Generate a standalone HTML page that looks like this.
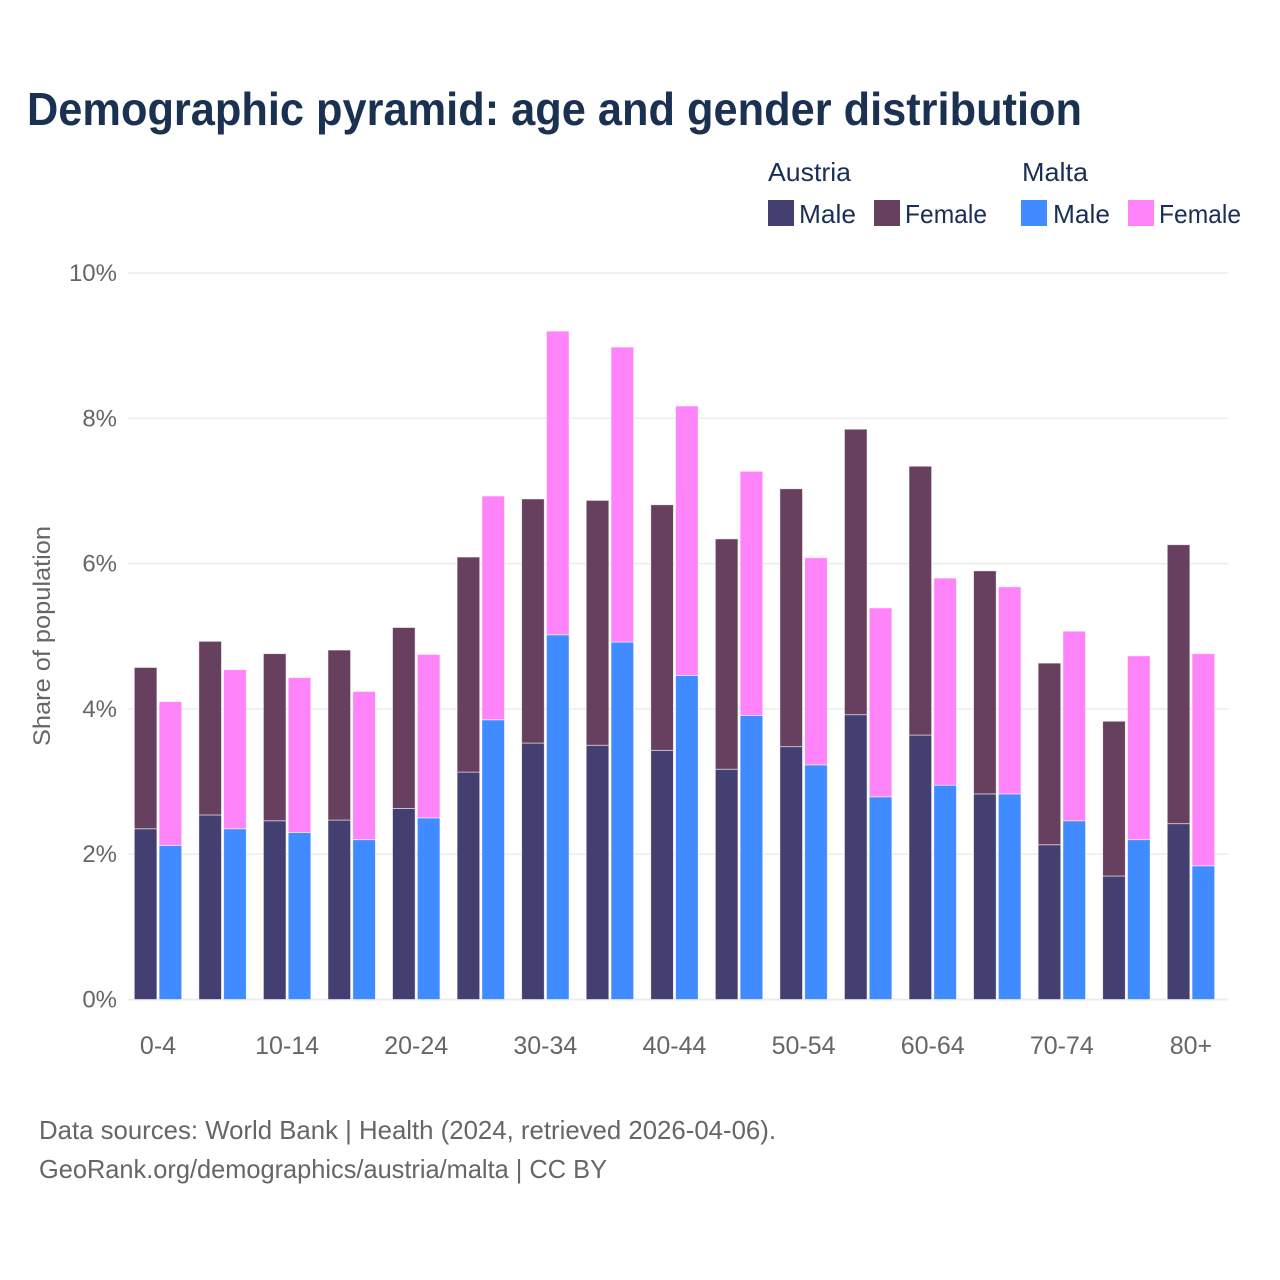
<!DOCTYPE html>
<html lang="en">
<head>
<meta charset="utf-8">
<title>Demographic pyramid</title>
<style>
html,body{margin:0;padding:0;background:#fff;width:1280px;height:1280px;overflow:hidden}
svg{display:block}
text{font-family:"Liberation Sans",sans-serif}
</style>
</head>
<body>
<svg id="chart" width="1280" height="1280" viewBox="0 0 1280 1280" xmlns="http://www.w3.org/2000/svg">
  <rect width="1280" height="1280" fill="#fff"/>
  <text x="27" y="125" font-size="46" font-weight="700" fill="#1a3152" textLength="1055" lengthAdjust="spacingAndGlyphs">Demographic pyramid: age and gender distribution</text>

  <g font-size="26" fill="#1a2f55">
    <text x="768" y="181" textLength="83" lengthAdjust="spacingAndGlyphs">Austria</text>
    <text x="1022" y="181" textLength="66" lengthAdjust="spacingAndGlyphs">Malta</text>
    <rect x="768" y="200" width="26" height="26" fill="#433f70"/>
    <text x="799" y="223" textLength="57" lengthAdjust="spacingAndGlyphs">Male</text>
    <rect x="874" y="200" width="26" height="26" fill="#67405f"/>
    <text x="905" y="223" textLength="82" lengthAdjust="spacingAndGlyphs">Female</text>
    <rect x="1021" y="200" width="26" height="26" fill="#3f8bff"/>
    <text x="1053" y="223" textLength="57" lengthAdjust="spacingAndGlyphs">Male</text>
    <rect x="1128" y="200" width="26" height="26" fill="#ff84f9"/>
    <text x="1159" y="223" textLength="82" lengthAdjust="spacingAndGlyphs">Female</text>
  </g>

  <g id="grid"></g>
  <g id="bars"></g>
  <g id="y-axis"></g>
  <g id="x-axis"></g>

  <text transform="translate(50,746) rotate(-90)" x="0" y="0" font-size="24" fill="#666" textLength="220" lengthAdjust="spacingAndGlyphs">Share of population</text>

  <text x="39" y="1139" font-size="26" fill="#666" textLength="737" lengthAdjust="spacingAndGlyphs">Data sources: World Bank | Health (2024, retrieved 2026-04-06).</text>
  <text x="39" y="1178" font-size="26" fill="#666" textLength="568" lengthAdjust="spacingAndGlyphs">GeoRank.org/demographics/austria/malta | CC BY</text>
</svg>
<script>
const categories = ["0-4","5-9","10-14","15-19","20-24","25-29","30-34","35-39","40-44","45-49","50-54","55-59","60-64","65-69","70-74","75-79","80+"];
const xTickLabels = ["0-4","10-14","20-24","30-34","40-44","50-54","60-64","70-74","80+"];
const yTickValues = [0,2,4,6,8,10];
const austriaMale = [2.35,2.54,2.46,2.47,2.63,3.13,3.53,3.50,3.43,3.17,3.48,3.92,3.64,2.83,2.13,1.70,2.42];
const austriaFemale = [2.22,2.39,2.30,2.34,2.49,2.96,3.36,3.37,3.38,3.17,3.55,3.93,3.70,3.07,2.50,2.13,3.84];
const maltaMale = [2.12,2.35,2.30,2.20,2.50,3.85,5.02,4.92,4.46,3.91,3.23,2.79,2.95,2.83,2.46,2.20,1.84];
const maltaFemale = [1.98,2.19,2.13,2.04,2.25,3.08,4.18,4.06,3.71,3.36,2.85,2.60,2.85,2.85,2.61,2.53,2.92];

const NS = "http://www.w3.org/2000/svg";
const plotLeft = 128, plotRight = 1228, y0 = 999.5, pxPerPct = 72.65;
const groupStart = 134.3, groupStep = 64.56, barW = 22.6, barGap = 24.8;
function yScale(v){ return y0 - v * pxPerPct; }
function xScale(i){ return groupStart + i * groupStep; }

const grid = document.getElementById("grid");
const yAxis = document.getElementById("y-axis");
yTickValues.forEach(function(v){
  const line = document.createElementNS(NS,"line");
  
  
  line.setAttribute("x1", plotLeft);
  line.setAttribute("x2", plotRight);
  line.setAttribute("y1", yScale(v));
  line.setAttribute("y2", yScale(v));
  line.setAttribute("stroke", "#ececec");
  line.setAttribute("stroke-width", v === 0 ? 2 : 1.5);
  grid.appendChild(line);
  const t = document.createElementNS(NS,"text");
  
  
  t.setAttribute("x", 117);
  t.setAttribute("y", yScale(v) + 8);
  t.setAttribute("text-anchor", "end");
  t.setAttribute("font-size", 24);
  t.setAttribute("fill", "#666");
  t.textContent = v + "%";
  yAxis.appendChild(t);
});

const barsG = document.getElementById("bars");
function addBar(x, base, val, fill, name){
  const r = document.createElementNS(NS,"rect");
  
  
  r.setAttribute("x", x);
  r.setAttribute("y", yScale(base + val));
  r.setAttribute("width", barW);
  r.setAttribute("height", val * pxPerPct);
  r.setAttribute("fill", fill);
  r.setAttribute("stroke", "#ffffff");
  r.setAttribute("stroke-opacity", "0.65");
  r.setAttribute("stroke-width", "0.8");
  barsG.appendChild(r);
}
categories.forEach(function(c,i){
  const x = xScale(i);
  addBar(x, 0, austriaMale[i], "#433f70", "bar-austria-male");
  addBar(x, austriaMale[i], austriaFemale[i], "#67405f", "bar-austria-female");
  addBar(x + barGap, 0, maltaMale[i], "#3f8bff", "bar-malta-male");
  addBar(x + barGap, maltaMale[i], maltaFemale[i], "#ff84f9", "bar-malta-female");
});

const xAxis = document.getElementById("x-axis");
xTickLabels.forEach(function(lab){
  const i = categories.indexOf(lab);
  const t = document.createElementNS(NS,"text");
  
  
  t.setAttribute("x", xScale(i) + 23.7);
  t.setAttribute("y", 1054);
  t.setAttribute("text-anchor", "middle");
  t.setAttribute("font-size", 25);
  t.setAttribute("fill", "#666");
  t.textContent = lab;
  xAxis.appendChild(t);
});
</script>
</body>
</html>
